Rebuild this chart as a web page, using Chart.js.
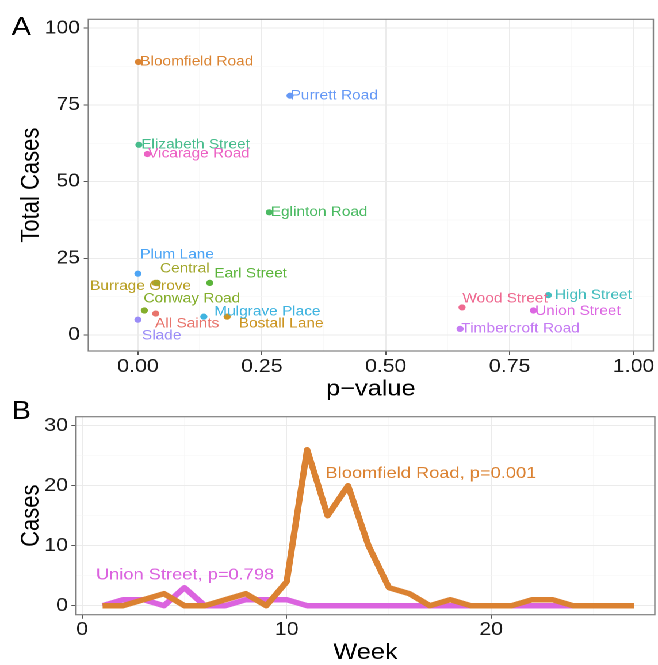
<!DOCTYPE html>
<html>
<head>
<meta charset="utf-8">
<script src="https://cdn.jsdelivr.net/npm/chart.js@4.4.1/dist/chart.umd.min.js"></script>
<style>
  html, body { margin: 0; padding: 0; background: #fff; width: 658px; height: 665px; overflow: hidden; }
  /* the figure is a bit wider than tall, so everything is drawn narrow and stretched */
  #stage { position: absolute; left: 0; top: 0; width: 572px; height: 680px; transform: scale(1.1503, 1); transform-origin: 0 0; }
  #boxA { position: absolute; left: 0; top: 0; width: 572px; height: 410px; }
  #boxB { position: absolute; left: 0; top: 395px; width: 572px; height: 275px; }
</style>
</head>
<body>
<div id="stage">
  <div id="boxA"><canvas id="chartA"></canvas></div>
  <div id="boxB"><canvas id="chartB"></canvas></div>
</div>
<script>
// ---- panel A: total cases vs p-value per site ----
var sites = ['All Saints', 'Bloomfield Road', 'Bostall Lane', 'Burrage Grove', 'Central', 'Conway Road',
  'Earl Street', 'Eglinton Road', 'Elizabeth Street', 'High Street', 'Mulgrave Place', 'Plum Lane',
  'Purrett Road', 'Slade', 'Timbercroft Road', 'Union Street', 'Vicarage Road', 'Wood Street'];
var pValues = [0.036, 0.001, 0.18, 0.035, 0.039, 0.013, 0.145, 0.265, 0.002, 0.828, 0.133, 0.0,
  0.307, 0.0, 0.65, 0.798, 0.019, 0.654];
var totalCases = [7, 89, 6, 17, 17, 8, 17, 40, 62, 13, 6, 20, 78, 5, 2, 8, 59, 9];

var siteColors = ['#E8746C', '#DB8432', '#CC9522', '#B9A026', '#A0A62A', '#84AE2C', '#5BB43A', '#4BBA63',
  '#47BC8C', '#45BDBE', '#40B4E0', '#4DA5F5', '#6598F5', '#9A8CF7', '#C57CF3', '#DC67E2', '#EC62C4', '#EF6A91'];
// label nudges (px) so the text sits like the repelled labels
var nudgeX = [-0.6, 1.6, 10.1, -56.7, 2.4, -0.8, 3.9, 1.3, 2.0, 5.7, 9.1, 2.0, 0.4, 3.5, 1.1, 1.4, 0.7, 0.3];
var nudgeY = [10, 0, 7.3, 3.3, -14, -11.7, -9, 0, 0, 0, -5, -19, 0, 16, 0, 0.7, 0, -8.4];

var pTicks = [0, 0.25, 0.5, 0.75, 1];
var pMinor = [0.125, 0.375, 0.625, 0.875];
var caseTicks = [0, 25, 50, 75, 100];
var caseMinor = [12.5, 37.5, 62.5, 87.5];

// ---- panel B: weekly cases for two sites ----
var weeks = [1, 2, 3, 4, 5, 6, 7, 8, 9, 10, 11, 12, 13, 14, 15, 16, 17, 18, 19, 20, 21, 22, 23, 24, 25, 26, 27];
var bloomfieldCases = [0, 0, 1, 2, 0, 0, 1, 2, 0, 4, 26, 15, 20, 10, 3, 2, 0, 1, 0, 0, 0, 1, 1, 0, 0, 0, 0];
var unionCases = [0, 1, 1, 0, 3, 0, 0, 1, 1, 1, 0, 0, 0, 0, 0, 0, 0, 0, 0, 0, 0, 0, 0, 0, 0, 0, 0];
var seriesLabels = ['Bloomfield Road, p=0.001', 'Union Street, p=0.798'];
var seriesLabelWeek = [11.9, 0.67];
var seriesLabelCases = [22.0, 5.1];
var seriesColors = ['#DB8232', '#DB64DF'];

var weekTicks = [0, 10, 20];
var weekMinor = [5, 15, 25];
var weekCaseTicks = [0, 10, 20, 30];
var weekCaseMinor = [5, 15, 25];

Chart.defaults.font.family = '"Liberation Sans", Arial, Helvetica, sans-serif';
Chart.defaults.color = '#1a1a1a';

function gridFor(majors) {
  function isMajor(c) { return c.tick && majors.indexOf(c.tick.value) >= 0; }
  return {
    color: function (c) { return isMajor(c) ? '#ebebeb' : '#f5f5f5'; },
    lineWidth: function (c) { return isMajor(c) ? 1 : 0.6; },
    tickColor: function (c) { return isMajor(c) ? '#555' : 'rgba(0,0,0,0)'; },
    tickLength: 4,
    drawTicks: true
  };
}

function tickSetup(majors, minors, fmt) {
  var all = majors.concat(minors).sort(function (a, b) { return a - b; });
  return {
    afterBuildTicks: function (scale) {
      scale.ticks = all.map(function (v) { return { value: v }; });
    },
    callback: function (value) { return majors.indexOf(value) >= 0 ? fmt(value) : ''; }
  };
}

function fixSize(prop, size) {
  return function (scale) {
    scale[prop] = size;
    scale.paddingLeft = 0; scale.paddingRight = 0; scale.paddingTop = 0; scale.paddingBottom = 0;
  };
}

function panelDecor(letter, letterY) {
  return {
    id: 'decor' + letter,
    afterDraw: function (chart) {
      var ctx = chart.ctx, a = chart.chartArea;
      ctx.save();
      ctx.strokeStyle = '#808080';
      ctx.lineWidth = 1.2;
      ctx.strokeRect(a.left, a.top, a.right - a.left, a.bottom - a.top);
      ctx.fillStyle = '#000';
      ctx.font = '25.5px "Liberation Sans", Arial, sans-serif';
      ctx.textAlign = 'left';
      ctx.textBaseline = 'alphabetic';
      ctx.fillText(letter, 10, letterY);
      ctx.restore();
    }
  };
}

var siteLabels = {
  id: 'siteLabels',
  afterDatasetsDraw: function (chart) {
    var ctx = chart.ctx, xs = chart.scales.x, ys = chart.scales.y;
    ctx.save();
    ctx.font = '13.4px "Liberation Sans", Arial, sans-serif';
    ctx.textAlign = 'left';
    ctx.textBaseline = 'middle';
    sites.forEach(function (name, i) {
      ctx.fillStyle = siteColors[i];
      ctx.fillText(name, xs.getPixelForValue(pValues[i]) + nudgeX[i], ys.getPixelForValue(totalCases[i]) + nudgeY[i]);
    });
    ctx.restore();
  }
};

var seriesText = {
  id: 'seriesText',
  afterDatasetsDraw: function (chart) {
    var ctx = chart.ctx, xs = chart.scales.x, ys = chart.scales.y;
    ctx.save();
    ctx.font = '15.9px "Liberation Sans", Arial, sans-serif';
    ctx.textAlign = 'left';
    ctx.textBaseline = 'middle';
    seriesLabels.forEach(function (t, i) {
      ctx.fillStyle = seriesColors[i];
      ctx.fillText(t, xs.getPixelForValue(seriesLabelWeek[i]), ys.getPixelForValue(seriesLabelCases[i]));
    });
    ctx.restore();
  }
};

var pTickSet = tickSetup(pTicks, pMinor, function (v) { return v.toFixed(2); });
var caseTickSet = tickSetup(caseTicks, caseMinor, function (v) { return String(v); });

new Chart(document.getElementById('chartA'), {
  type: 'scatter',
  data: {
    datasets: [{
      data: sites.map(function (s, i) { return { x: pValues[i], y: totalCases[i] }; }),
      backgroundColor: siteColors,
      pointRadius: 3.1,
      pointBorderWidth: 0
    }]
  },
  options: {
    responsive: true,
    maintainAspectRatio: false,
    animation: false,
    devicePixelRatio: 2,
    layout: { padding: { top: 19.3, right: 0.7, left: 0, bottom: 0 } },
    plugins: { legend: { display: false }, tooltip: { enabled: false } },
    scales: {
      x: {
        type: 'linear', min: -0.1, max: 1.04,
        afterBuildTicks: pTickSet.afterBuildTicks,
        afterFit: fixSize('height', 59),
        grid: gridFor(pTicks),
        border: { display: false },
        ticks: { callback: pTickSet.callback, autoSkip: false, maxRotation: 0, padding: 1, font: { size: 18.5 }, color: '#1a1a1a' },
        title: { display: true, text: 'p\u2212value', font: { size: 22 }, color: '#000', padding: { top: 0, bottom: 7.4 } }
      },
      y: {
        type: 'linear', min: -5.2, max: 102.9,
        afterBuildTicks: caseTickSet.afterBuildTicks,
        afterFit: fixSize('width', 76.8),
        grid: gridFor(caseTicks),
        border: { display: false },
        ticks: { callback: caseTickSet.callback, autoSkip: false, padding: 3.2, font: { size: 18.5 }, color: '#1a1a1a' },
        title: { display: true, text: 'Total Cases', font: { size: 22 }, color: '#000', padding: { top: 14, bottom: 0 } }
      }
    }
  },
  plugins: [siteLabels, panelDecor('A', 35)]
});

var weekTickSet = tickSetup(weekTicks, weekMinor, function (v) { return String(v); });
var weekCaseTickSet = tickSetup(weekCaseTicks, weekCaseMinor, function (v) { return String(v); });

new Chart(document.getElementById('chartB'), {
  type: 'line',
  data: {
    datasets: [{
      label: 'Bloomfield Road',
      data: weeks.map(function (w, i) { return { x: w, y: bloomfieldCases[i] }; }),
      borderColor: seriesColors[0],
      borderWidth: 5.5,
      pointRadius: 0,
      tension: 0,
      borderJoinStyle: 'round'
    }, {
      label: 'Union Street',
      data: weeks.map(function (w, i) { return { x: w, y: unionCases[i] }; }),
      borderColor: seriesColors[1],
      borderWidth: 5.5,
      pointRadius: 0,
      tension: 0,
      borderJoinStyle: 'round'
    }]
  },
  options: {
    responsive: true,
    maintainAspectRatio: false,
    animation: false,
    devicePixelRatio: 2,
    layout: { padding: { top: 21.7, right: 0.5, left: 0, bottom: 0 } },
    plugins: { legend: { display: false }, tooltip: { enabled: false } },
    scales: {
      x: {
        type: 'linear', min: -0.3, max: 28.0,
        afterBuildTicks: weekTickSet.afterBuildTicks,
        afterFit: fixSize('height', 55.3),
        grid: gridFor(weekTicks),
        border: { display: false },
        ticks: { callback: weekTickSet.callback, autoSkip: false, maxRotation: 0, padding: 0.2, font: { size: 18.5 }, color: '#1a1a1a' },
        title: { display: true, text: 'Week', font: { size: 22 }, color: '#000', padding: { top: 0, bottom: 4.1 } }
      },
      y: {
        type: 'linear', min: -1.5, max: 31.5,
        afterBuildTicks: weekCaseTickSet.afterBuildTicks,
        afterFit: fixSize('width', 66.1),
        grid: gridFor(weekCaseTicks),
        border: { display: false },
        ticks: { callback: weekCaseTickSet.callback, autoSkip: false, padding: 3, font: { size: 18.5 }, color: '#1a1a1a' },
        title: { display: true, text: 'Cases', font: { size: 22 }, color: '#000', padding: { top: 14, bottom: 0 } }
      }
    }
  },
  plugins: [seriesText, panelDecor('B', 24)]
});
</script>
</body>
</html>
